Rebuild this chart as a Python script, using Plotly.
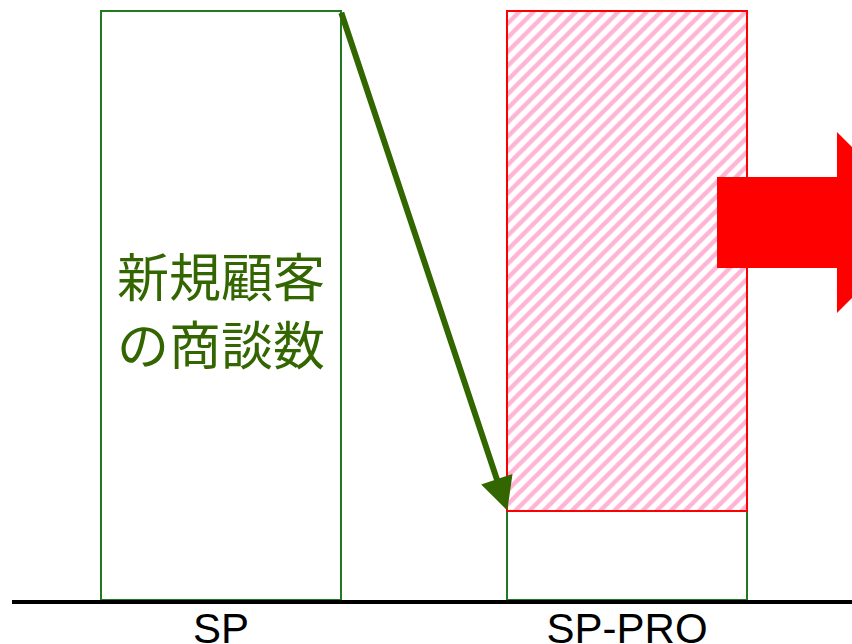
import plotly.graph_objects as go

categories = ["SP", "SP-PRO"]
base_values = [100, 15.2]
increase_values = [None, 84.8]
label_text = "新規顧客<br>の商談数"

GREEN_LINE = "#217a21"
DARK_GREEN = "#336600"
PINK = "#ffb4d6"
RED = "#ff0000"

fig = go.Figure()
fig.add_trace(go.Bar(
    x=categories, y=base_values, width=0.59,
    marker=dict(color="white", line=dict(color=GREEN_LINE, width=2)),
    showlegend=False, hoverinfo="skip",
))
fig.add_trace(go.Bar(
    x=categories, y=increase_values, width=0.59,
    marker=dict(color="white", line=dict(color=RED, width=2),
                pattern=dict(shape="/", fgcolor=PINK, bgcolor="white",
                             size=10, solidity=0.45, fillmode="replace")),
    showlegend=False, hoverinfo="skip",
))

# text label inside SP bar
fig.add_annotation(x=categories[0], y=49.5, text=label_text, showarrow=False,
                   font=dict(family="Noto Sans CJK JP", size=52, color=DARK_GREEN),
                   align="center")

# green arrow from SP top-right to SP-PRO base top-left
fig.add_annotation(x=1 - 0.295, y=base_values[1], ax=0 + 0.295, ay=base_values[0],
                   xref="x", yref="y", axref="x", ayref="y",
                   showarrow=True, arrowhead=2, arrowsize=1.1, arrowwidth=6,
                   arrowcolor=DARK_GREEN, text="")

# big red arrow on the right (decorative)
pts = [(0.8393, 0.7169), (0.9821, 0.7169), (0.9821, 0.7932), (1.0905, 0.6398),
       (0.9821, 0.4864), (0.9821, 0.5627), (0.8393, 0.5627)]
path = "M " + " L ".join(f"{x},{y}" for x, y in pts) + " Z"
fig.add_shape(type="path", path=path, xref="paper", yref="paper",
              fillcolor=RED, line=dict(width=0), layer="above")

fig.update_layout(
    barmode="stack",
    width=852, height=644,
    margin=dict(l=12, r=0, t=10, b=44, autoexpand=False),
    paper_bgcolor="white", plot_bgcolor="white",
    bargap=0,
    xaxis=dict(range=[-0.5148, 1.554], showgrid=False, zeroline=False,
               showline=True, linecolor="black", linewidth=4, automargin=False,
               ticks="", ticklabelstandoff=-11,
               tickfont=dict(family="Liberation Sans", size=42, color="black")),
    yaxis=dict(range=[0, 100.2], visible=False, showgrid=False, zeroline=False,
               automargin=False),
)

fig.write_html("out.html", config={"displayModeBar": False},
               post_script="document.body.style.margin='0';document.body.style.overflow='hidden';")
